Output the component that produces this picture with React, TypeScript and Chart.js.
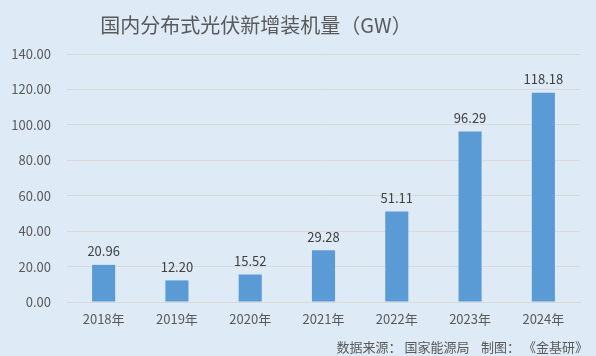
import React, { useEffect, useRef } from "react";
import { Chart, registerables } from "chart.js";

Chart.register(...registerables);

const categories = ["2018年", "2019年", "2020年", "2021年", "2022年", "2023年", "2024年"];
const values = [20.96, 12.2, 15.52, 29.28, 51.11, 96.29, 118.18];
const titleText = "国内分布式光伏新增装机量（GW）";
const footerText = "数据来源： 国家能源局    制图： 《金基研》";

const FONT = '"Noto Sans CJK SC", "Noto Sans", sans-serif';
const BG = "#deeaf6";
const TEXT = "#595959";

const decorPlugin = {
  id: "decor",
  beforeDraw(chart: any) {
    const { ctx, width, height } = chart;
    ctx.save();
    ctx.fillStyle = BG;
    ctx.fillRect(0, 0, width, height);
    ctx.restore();
  },
  afterDraw(chart: any) {
    const { ctx } = chart;
    ctx.save();
    ctx.fillStyle = TEXT;
    ctx.font = `20px ${FONT}`;
    ctx.textAlign = "center";
    ctx.textBaseline = "middle";
    ctx.fillText(titleText, 256, 25);
    ctx.font = `13px ${FONT}`;
    ctx.textAlign = "right";
    ctx.fillText(footerText, 588, 347);
    // data labels
    const meta = chart.getDatasetMeta(0);
    ctx.fillStyle = "#404040";
    ctx.font = `13px ${FONT}`;
    ctx.textAlign = "center";
    ctx.textBaseline = "bottom";
    meta.data.forEach((bar: any, i: number) => {
      ctx.fillText(values[i].toFixed(2), bar.x, bar.y - 7);
    });
    ctx.restore();
  },
};

export default function App() {
  const ref = useRef<HTMLCanvasElement | null>(null);
  useEffect(() => {
    document.body.style.margin = "0";
    const chart = new Chart(ref.current!, {
      type: "bar",
      data: {
        labels: categories,
        datasets: [
          {
            data: values,
            backgroundColor: "#5b9bd5",
            categoryPercentage: 1,
            barPercentage: 0.315,
          },
        ],
      },
      options: {
        animation: false,
        responsive: false,
        layout: { padding: { left: 0, right: 16, top: 54, bottom: 0 } },
        plugins: { legend: { display: false }, tooltip: { enabled: false }, title: { display: false } },
        scales: {
          x: {
            grid: { display: false, drawTicks: false },
            border: { display: true, color: "#d9d9d9" },
            ticks: { color: TEXT, font: { family: FONT, size: 13 }, padding: 9 },
            afterFit: (s: any) => {
              s.height = 54;
            },
          },
          y: {
            min: 0,
            max: 140,
            grid: { color: "#d9d9d9", drawTicks: false },
            border: { display: false },
            ticks: {
              stepSize: 20,
              color: TEXT,
              font: { family: FONT, size: 13 },
              padding: 16,
              callback: (v: any) => Number(v).toFixed(2),
            },
            afterFit: (s: any) => {
              s.width = 67;
            },
          },
        },
      },
      plugins: [decorPlugin],
    });
    return () => chart.destroy();
  }, []);
  return (
    <div style={{ width: 596, height: 356 }}>
      <canvas ref={ref} width={596} height={356} style={{ display: "block" }} />
    </div>
  );
}
